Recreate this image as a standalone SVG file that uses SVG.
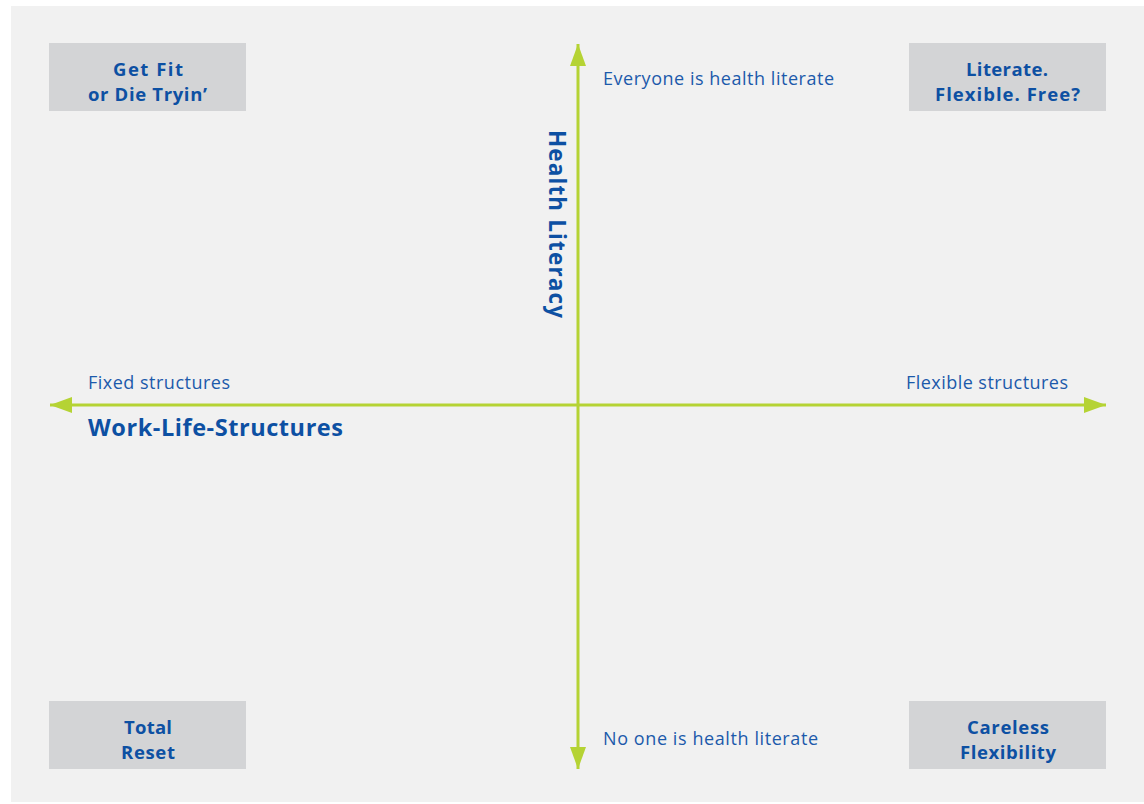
<svg xmlns="http://www.w3.org/2000/svg" width="1144" height="804" viewBox="0 0 1144 804">
<defs>
<style>
.box{fill:#d3d4d6}
.bt{font-family:"Open Sans","Noto Sans",sans-serif;font-weight:bold;font-size:18.5px;fill:#0d50a3;text-anchor:middle}
.lt{font-family:"Open Sans","Noto Sans",sans-serif;font-size:18px;fill:#1c5aab}
.ax{stroke:#b5d334;stroke-width:3;fill:none}
.ttl{font-family:"Open Sans","Noto Sans",sans-serif;font-weight:bold;fill:#0d50a3}
</style>
<marker id="ah" viewBox="0 0 22 16" refX="22" refY="8" markerWidth="22" markerHeight="16" markerUnits="userSpaceOnUse" orient="auto-start-reverse">
<path d="M0,0 L22,8 L0,16 Z" fill="#b5d334"/>
</marker>
</defs>
<rect width="1144" height="804" fill="#ffffff"/>
<rect x="11" y="6" width="1133" height="796" fill="#f1f1f1"/>
<g id="connectors">
<line class="ax" x1="578" y1="44" x2="578" y2="769" marker-start="url(#ah)" marker-end="url(#ah)"/>
<line class="ax" x1="50" y1="405" x2="1106" y2="405" marker-start="url(#ah)" marker-end="url(#ah)"/>
</g>
<g id="axis-labels">
<text class="lt" x="603" y="85" textLength="231">Everyone is health literate</text>
<text class="lt" x="603" y="745" textLength="215">No one is health literate</text>
<text class="lt" x="88" y="389" textLength="142">Fixed structures</text>
<text class="lt" x="906" y="389" textLength="162">Flexible structures</text>
<text class="ttl" x="88" y="436" font-size="23.5" textLength="255">Work-Life-Structures</text>
<text class="ttl" font-size="22.5" textLength="188" transform="translate(549,130) rotate(90)">Health Literacy</text>
</g>
<g id="get-fit">
<rect class="box" x="49" y="43" width="197" height="68"/>
<text class="bt" x="148" y="76" textLength="70">Get Fit</text>
<text class="bt" x="147.5" y="101" textLength="119">or Die Tryin’</text>
</g>
<g id="literate">
<rect class="box" x="909" y="43" width="197" height="68"/>
<text class="bt" x="1007" y="76" textLength="82">Literate.</text>
<text class="bt" x="1007.5" y="101" textLength="145">Flexible. Free?</text>
</g>
<g id="total-reset">
<rect class="box" x="49" y="701" width="197" height="68"/>
<text class="bt" x="148" y="734" textLength="48">Total</text>
<text class="bt" x="148" y="759" textLength="54">Reset</text>
</g>
<g id="careless">
<rect class="box" x="909" y="701" width="197" height="68"/>
<text class="bt" x="1008" y="734" textLength="82">Careless</text>
<text class="bt" x="1008" y="759" textLength="96">Flexibility</text>
</g>
</svg>
